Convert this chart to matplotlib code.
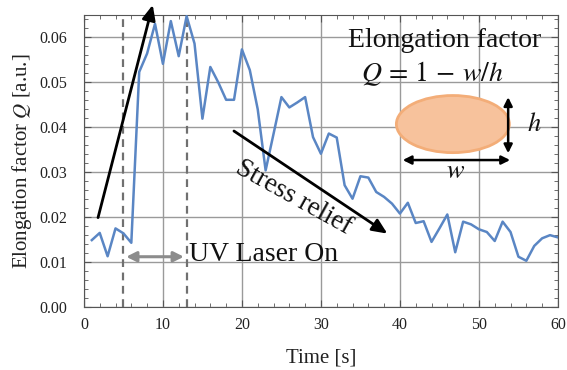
import matplotlib
matplotlib.use("Agg")
import matplotlib.pyplot as plt
from matplotlib.patches import Ellipse
from matplotlib.ticker import MultipleLocator

plt.rcParams['font.family'] = ['Liberation Serif', 'DejaVu Serif']
plt.rcParams['mathtext.fontset'] = 'stix'

# time [s] and elongation factor Q
time_s = list(range(1, 61))
q_vals = [0.0149, 0.0165, 0.0113, 0.0175, 0.0164, 0.0143, 0.0523, 0.0564, 0.0630, 0.0541,
          0.0636, 0.0558, 0.0647, 0.0586, 0.0419, 0.0534, 0.0500, 0.0461, 0.0461, 0.0573,
          0.0527, 0.0440, 0.0304, 0.0385, 0.0467, 0.0444, 0.0455, 0.0467, 0.0378, 0.0341,
          0.0386, 0.0377, 0.0271, 0.0241, 0.0291, 0.0288, 0.0256, 0.0245, 0.0230, 0.0208,
          0.0232, 0.0187, 0.0191, 0.0145, 0.0175, 0.0206, 0.0122, 0.0190, 0.0184, 0.0173,
          0.0167, 0.0147, 0.0190, 0.0167, 0.0112, 0.0103, 0.0136, 0.0153, 0.0160, 0.0155]

laser_on = [5, 13]
xticks = [0, 10, 20, 30, 40, 50, 60]
yticks = [0.00, 0.01, 0.02, 0.03, 0.04, 0.05, 0.06]

fig = plt.figure(figsize=(5.67, 3.70), dpi=100)
ax = fig.add_axes([0.148, 0.170, 0.836, 0.790])

ax.grid(True, which='major', color='#9a9a9a', lw=1.0)
ax.set_axisbelow(True)

ax.plot(time_s, q_vals, color='#5a86c4', lw=1.8, zorder=3)

for xl in laser_on:
    ax.axvline(xl, color='#707070', lw=1.6, ls=(0, (3.5, 2.5)), zorder=2)

ax.set_xlim(0, 60)
ax.set_ylim(0, 0.065)
ax.set_xticks(xticks)
ax.set_yticks(yticks)
ax.set_yticklabels(["%.2f" % v for v in yticks])
ax.xaxis.set_minor_locator(MultipleLocator(2))
ax.yaxis.set_minor_locator(MultipleLocator(0.002))
ax.tick_params(which='both', direction='in', top=True, right=True, colors='#555555',
               labelcolor='#222222', labelsize=11.5)
ax.tick_params(which='major', length=5)
ax.tick_params(which='minor', length=3)
ax.tick_params(axis='y', pad=12)
ax.tick_params(axis='x', pad=7)
for s in ax.spines.values():
    s.set_color('#555555')

ax.set_xlabel("Time [s]", fontsize=15, color='#222222', labelpad=11)
ax.set_ylabel(r"Elongation factor $Q$ [a.u.]", fontsize=15, color='#222222', labelpad=4)

# rising arrow
ax.annotate("", xy=(8.8, 0.0678), xytext=(1.7, 0.0193),
            arrowprops=dict(arrowstyle='-|>,head_length=0.9,head_width=0.4', color='black', lw=2),
            annotation_clip=False, zorder=5)

# stress relief arrow
ax.annotate("", xy=(38.7, 0.0160), xytext=(18.7, 0.0395),
            arrowprops=dict(arrowstyle='-|>,head_length=0.9,head_width=0.4', color='black', lw=2),
            zorder=5)
ax.text(26.5, 0.0244, "Stress relief", rotation=-29, fontsize=19.5, ha='center', va='center',
        color='#111111', zorder=6)

# UV laser on
ax.annotate("", xy=(laser_on[1], 0.0112), xytext=(laser_on[0], 0.0112),
            arrowprops=dict(arrowstyle='<|-|>,head_length=0.6,head_width=0.3', color='#8c8c8c', lw=2.2),
            zorder=5)
ax.text(13.3, 0.0117, "UV Laser On", fontsize=20, ha='left', va='center', color='#111111', zorder=6)

# elongation factor inset
ax.text(45.6, 0.0593, "Elongation factor", fontsize=20, ha='center', va='center', color='#111111')
ax.text(44.1, 0.0520, r"$Q\,=\,1\,-\,w/h$", fontsize=20, ha='center', va='center', color='#111111')
ax.add_patch(Ellipse((46.7, 0.0407), 14.3, 0.0127, facecolor='#f7c29c', edgecolor='#f3ad78',
                     lw=2, zorder=4))
ax.annotate("", xy=(53.7, 0.0473), xytext=(53.7, 0.0336),
            arrowprops=dict(arrowstyle='<|-|>,head_length=0.5,head_width=0.25', color='black', lw=1.8),
            zorder=5)
ax.annotate("", xy=(54.3, 0.0327), xytext=(40.0, 0.0327),
            arrowprops=dict(arrowstyle='<|-|>,head_length=0.5,head_width=0.25', color='black', lw=1.8),
            zorder=5)
ax.text(57.0, 0.0407, r"$h$", fontsize=19, ha='center', va='center', color='#111111')
ax.text(47.0, 0.0300, r"$w$", fontsize=19, ha='center', va='center', color='#111111')

fig.savefig("out.png", dpi=100)
